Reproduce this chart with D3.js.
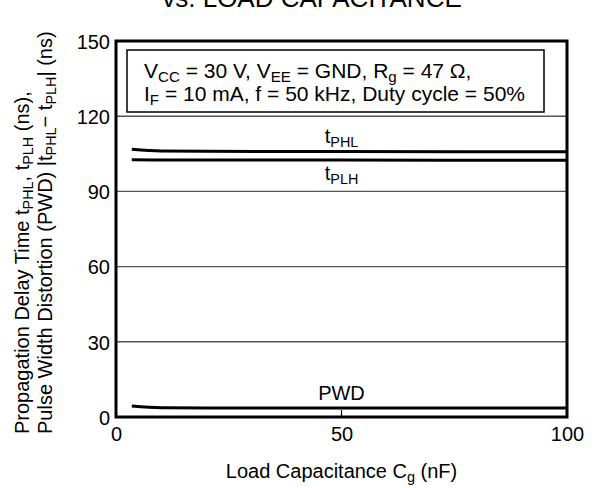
<!DOCTYPE html>
<html lang="en">
<head>
  <meta charset="UTF-8">
  <title>Propagation Delay vs. Load Capacitance</title>
  <script src="https://cdn.jsdelivr.net/npm/d3@7"></script>
  <style>
    body { margin: 0; background: #fff; }
    svg text { font-family: "Liberation Sans", Arial, sans-serif; fill: #000; }
  </style>
</head>
<body>
<svg id="chart"></svg>
<script>
  // values
  const loadCap = [3.5, 10, 20, 50, 100]
  const tPHL = [106.8, 106.1, 106, 105.9, 105.8]
  const tPLH = [102.6, 102.5, 102.5, 102.5, 102.4]
  const pwd = [4.4, 3.7, 3.6, 3.6, 3.6]
  const yTicks = [0, 30, 60, 90, 120, 150]
  const xTicks = [0, 50, 100]

  const width = 595, height = 488
  const margin = { left: 116, right: 28, top: 41, bottom: 71 }

  const svg = d3.select("#chart").attr("width", width).attr("height", height)

  const x = d3.scaleLinear().domain([0, 100]).range([margin.left, width - margin.right])
  const y = d3.scaleLinear().domain([0, 150]).range([height - margin.bottom, margin.top])

  // writes text made of [string, isSub] parts
  function richText(sel, parts, size) {
    parts.forEach(([s, sub], i) => {
      const prevSub = i > 0 && parts[i - 1][1]
      const t = sel.append("tspan").text(s)
      if (sub) t.attr("font-size", size * 0.72).attr("dy", size * 0.2)
      else if (prevSub) t.attr("dy", -size * 0.2)
    })
  }

  // grid lines
  svg.append("g").selectAll("line")
    .data(yTicks.filter(d => d > 0 && d < 150))
    .join("line")
      .attr("x1", x(0)).attr("x2", x(100))
      .attr("y1", d => y(d)).attr("y2", d => y(d))
      .attr("stroke", "#555").attr("stroke-width", 1.4)

  // tick at 50 on the bottom
  svg.append("line")
    .attr("x1", x(50)).attr("x2", x(50))
    .attr("y1", y(0)).attr("y2", y(0) - 7)
    .attr("stroke", "#000").attr("stroke-width", 1.2)

  // data lines
  const line = d3.line().x((d, i) => x(loadCap[i])).y(d => y(d)).curve(d3.curveMonotoneX)
  ;[tPHL, tPLH, pwd].forEach(s => {
    svg.append("path").attr("d", line(s))
      .attr("fill", "none").attr("stroke", "#000").attr("stroke-width", 3)
  })

  // frame
  svg.append("rect")
    .attr("x", x(0)).attr("y", y(150))
    .attr("width", x(100) - x(0)).attr("height", y(0) - y(150))
    .attr("fill", "none").attr("stroke", "#000").attr("stroke-width", 3)

  // axis labels
  const yAxis = d3.axisLeft(y).tickValues(yTicks).tickSize(0).tickPadding(6)
  svg.append("g").attr("transform", `translate(${x(0)},0)`).call(yAxis)
    .call(g => g.select(".domain").remove())
    .selectAll("text").attr("font-size", 20).attr("font-family", null).attr("dy", "0.36em")

  const xAxis = d3.axisBottom(x).tickValues(xTicks).tickSize(0).tickPadding(10)
  svg.append("g").attr("transform", `translate(0,${y(0)})`).call(xAxis)
    .call(g => g.select(".domain").remove())
    .selectAll("text").attr("font-size", 20).attr("font-family", null)

  // conditions box
  svg.append("rect")
    .attr("x", 127).attr("y", 50).attr("width", 417).attr("height", 62)
    .attr("fill", "#fff").attr("stroke", "#000").attr("stroke-width", 1.5)
  richText(svg.append("text").attr("x", 144).attr("y", 78).attr("font-size", 21),
    [["V"], ["CC", 1], [" = 30 V, V"], ["EE", 1], [" = GND, R"], ["g", 1], [" = 47 Ω,"]], 21)
  richText(svg.append("text").attr("x", 144).attr("y", 101).attr("font-size", 21),
    [["I"], ["F", 1], [" = 10 mA, f = 50 kHz, Duty cycle = 50%"]], 21)

  // series labels
  richText(svg.append("text").attr("x", x(50)).attr("y", 143).attr("text-anchor", "middle").attr("font-size", 20),
    [["t"], ["PHL", 1]], 20)
  richText(svg.append("text").attr("x", x(50)).attr("y", 180).attr("text-anchor", "middle").attr("font-size", 20),
    [["t"], ["PLH", 1]], 20)
  svg.append("text").attr("x", x(50)).attr("y", 400).attr("text-anchor", "middle")
    .attr("font-size", 20).text("PWD")

  // titles
  svg.append("text").attr("x", 312).attr("y", 7).attr("text-anchor", "middle")
    .attr("font-size", 26).text("vs. LOAD CAPACITANCE")

  richText(svg.append("text").attr("x", x(50)).attr("y", 478).attr("text-anchor", "middle").attr("font-size", 20),
    [["Load Capacitance C"], ["g", 1], [" (nF)"]], 20)

  richText(svg.append("text").attr("transform", "translate(29,434) rotate(-90)").attr("font-size", 20),
    [["Propagation Delay Time t"], ["PHL", 1], [", t"], ["PLH", 1], [" (ns),"]], 20)
  richText(svg.append("text").attr("transform", "translate(52,434) rotate(-90)").attr("font-size", 20),
    [["Pulse Width Distortion (PWD) |t"], ["PHL", 1], ["− t"], ["PLH", 1], ["| (ns)"]], 20)
</script>
</body>
</html>
